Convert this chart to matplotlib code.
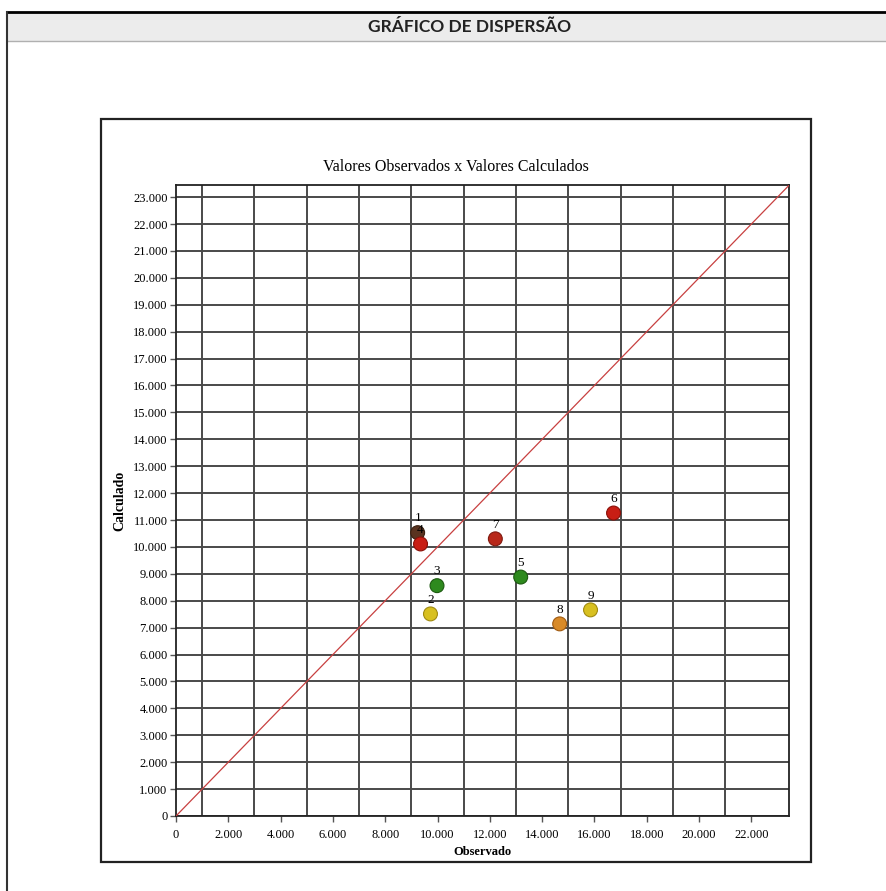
import matplotlib
matplotlib.use("Agg")
import matplotlib.pyplot as plt
from matplotlib.ticker import MultipleLocator, FuncFormatter
from matplotlib.patches import Rectangle
from matplotlib.lines import Line2D

# Data
labels = ["1", "2", "3", "4", "5", "6", "7", "8", "9"]
observado = [9240, 9730, 9980, 9350, 13180, 16730, 12210, 14670, 15850]
calculado = [10530, 7510, 8560, 10110, 8880, 11260, 10300, 7140, 7660]
colors = ["#5a3320", "#d8c020", "#2e8a1e", "#c81e14", "#2e8a1e",
          "#c81e14", "#b8281a", "#d88a28", "#d8c020"]
edge_colors = ["#3a2010", "#a08a10", "#1c5a10", "#8a1008", "#1c5a10",
               "#8a1008", "#801a10", "#a05a10", "#a08a10"]
axis_max = 23450

fig = plt.figure(figsize=(8.86, 8.91), dpi=100)
W, H = 886, 891

def fx(px):
    return px / W

def fy(py):
    return 1 - py / H

# Header band
fig.patches.append(Rectangle((fx(7), fy(41)), 1 - fx(7), fy(12) - fy(41),
                             transform=fig.transFigure, facecolor="#ececec",
                             edgecolor="none", zorder=0))
fig.lines.append(Line2D([fx(7), 1], [fy(12), fy(12)], transform=fig.transFigure,
                        color="black", lw=2))
fig.lines.append(Line2D([fx(7), 1], [fy(41), fy(41)], transform=fig.transFigure,
                        color="#b0b0b0", lw=1))
fig.lines.append(Line2D([fx(7), fx(7)], [fy(12), 0], transform=fig.transFigure,
                        color="#333333", lw=1.5))
fig.text(fx(470), fy(27), "GRÁFICO DE DISPERSÃO", ha="center", va="center",
         fontsize=12.5, fontweight="bold", family="Lato", color="#222222")

# Inner chart box
fig.patches.append(Rectangle((fx(101), fy(862)), fx(811) - fx(101), fy(119) - fy(862),
                             transform=fig.transFigure, facecolor="white",
                             edgecolor="#222222", lw=1.6, zorder=1))
fig.text(fx(456), fy(167), "Valores Observados x Valores Calculados",
         ha="center", va="center", fontsize=11.5, family="Liberation Serif",
         zorder=3)

ax = fig.add_axes([fx(176), fy(816), fx(789.3) - fx(176), fy(185) - fy(816)])
ax.set_zorder(2)
ax.set_xlim(0, axis_max)
ax.set_ylim(0, axis_max)

ax.xaxis.set_major_locator(MultipleLocator(2000))
ax.yaxis.set_major_locator(MultipleLocator(1000))

def thousands(v, pos):
    return f"{int(round(v)):,}".replace(",", ".")

ax.xaxis.set_major_formatter(FuncFormatter(thousands))
ax.yaxis.set_major_formatter(FuncFormatter(thousands))

# vertical grid at odd thousands only (1.000 ... 21.000)
ax.set_xticks([v for v in range(1000, 22000, 2000)], minor=True)
ax.grid(True, which="minor", axis="x", color="#4a4a4a", lw=1.4)
ax.grid(True, which="major", axis="y", color="#4a4a4a", lw=1.4)
ax.grid(False, which="major", axis="x")
ax.set_axisbelow(True)

ax.tick_params(axis="both", which="major", labelsize=9, length=4, width=1,
               color="#555555", direction="out", pad=2)
ax.tick_params(axis="x", which="major", pad=5)
ax.tick_params(axis="x", which="minor", length=0)
for lab in ax.get_xticklabels() + ax.get_yticklabels():
    lab.set_family("Liberation Serif")
for s in ax.spines.values():
    s.set_color("#222222")
    s.set_linewidth(1.3)

# identity line
ax.plot([0, axis_max], [0, axis_max], color="#c84040", lw=0.9, zorder=3)

ax.scatter(observado, calculado, s=100, c=colors, edgecolors=edge_colors,
           linewidths=0.8, zorder=4)
for lx, ly, t in zip(observado, calculado, labels):
    ax.annotate(t, (lx, ly), xytext=(0, 6), textcoords="offset points",
                ha="center", va="bottom", fontsize=9.5, family="Liberation Serif",
                zorder=5)

ax.set_xlabel("Observado", fontsize=9, fontweight="bold",
              family="Liberation Serif", labelpad=4)
ax.set_ylabel("Calculado", fontsize=10, fontweight="bold",
              family="Liberation Serif", labelpad=5)

fig.savefig("out.png", dpi=100, facecolor="white")
